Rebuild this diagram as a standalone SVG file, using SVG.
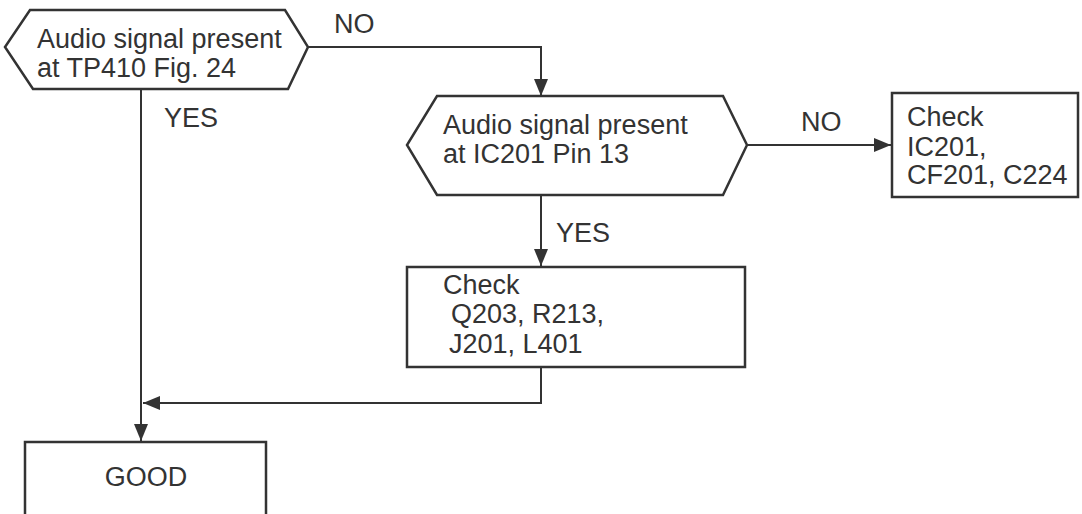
<svg xmlns="http://www.w3.org/2000/svg" width="1082" height="514" viewBox="0 0 1082 514">
<style>
.s{fill:#fff;stroke:#333;stroke-width:2.5}
.c{fill:none;stroke:#333;stroke-width:2}
text{font-family:"Liberation Sans",Arial,sans-serif;font-size:27px;fill:#333}
</style>
<defs>
<marker id="a" markerWidth="17" markerHeight="14" refX="17" refY="7" orient="auto" markerUnits="userSpaceOnUse">
<path d="M0,0 L17,7 L0,14 Z" fill="#333"/>
</marker>
</defs>
<rect width="1082" height="514" fill="#fff"/>
<g id="connectors">
<path class="c" d="M308,47 H541 V96" marker-end="url(#a)"/>
<path class="c" d="M141,89 V441" marker-end="url(#a)"/>
<path class="c" d="M747,145 H891" marker-end="url(#a)"/>
<path class="c" d="M541,195 V266" marker-end="url(#a)"/>
<path class="c" d="M541,367 V403 H143" marker-end="url(#a)"/>
<text x="334" y="33">NO</text>
<text x="164" y="127">YES</text>
<text x="801" y="131">NO</text>
<text x="556" y="242">YES</text>
</g>
<g id="n1">
<polygon class="s" points="30,10 285,10 308,47 288,89 33,89 5,47"/>
<text x="37" y="48">Audio signal present</text>
<text x="37" y="77">at TP410 Fig. 24</text>
</g>
<g id="n2">
<polygon class="s" points="437,96 723,96 747,145 723,195 437,195 407,145"/>
<text x="443" y="134">Audio signal present</text>
<text x="443" y="163">at IC201 Pin 13</text>
</g>
<g id="n3">
<rect class="s" x="892" y="93" width="186" height="104"/>
<text x="907" y="126">Check</text>
<text x="907" y="156">IC201,</text>
<text x="907" y="184">CF201, C224</text>
</g>
<g id="n4">
<rect class="s" x="407" y="267" width="338" height="100"/>
<text x="443" y="294">Check</text>
<text x="451" y="323">Q203, R213,</text>
<text x="449" y="353">J201, L401</text>
</g>
<g id="n5">
<rect class="s" x="25" y="442" width="241" height="80"/>
<text x="146" y="486" text-anchor="middle">GOOD</text>
</g>
</svg>
